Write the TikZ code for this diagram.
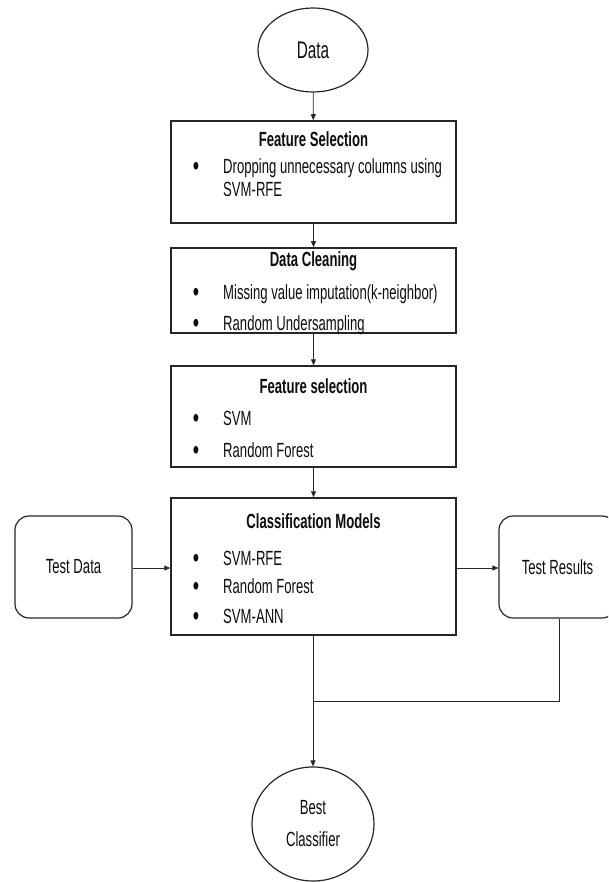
\documentclass[tikz,border=0pt]{standalone}
\usepackage{fontspec}
\setmainfont{Liberation Sans}[FakeStretch=0.64]
\usetikzlibrary{arrows.meta, shapes.geometric}

\tikzset{
    fnt/.style={font=\fontsize{20.5}{23}\selectfont, text=black!95},
    box/.style={draw=black!85, line width=1.5pt, minimum width=285pt, inner sep=0pt},
    roundbox/.style={fnt, draw=black!85, line width=1.2pt, rounded corners=14pt, minimum width=117pt, minimum height=102pt, inner sep=0pt},
    oval/.style={fnt, ellipse, draw=black!85, line width=1.2pt, inner sep=0pt},
    txt/.style={fnt, anchor=base, inner sep=0pt},
    ttl/.style={txt, font=\fontsize{20.5}{23}\selectfont\bfseries},
    itm/.style={txt, anchor=base west},
    dot/.style={txt, font=\fontsize{28}{28}\selectfont},
    line/.style={draw=black!85, line width=0.8pt},
    arr/.style={line, -{Triangle[length=6pt, width=5pt]}},
}

\begin{document}
\begin{tikzpicture}[x=1pt, y=-1pt]
    \clip (0,0) rectangle (608,882);

    \node[oval, minimum width=110pt, minimum height=84pt, font=\fontsize{24}{26}\selectfont] (data) at (313,50) {Data};

    \node[box, minimum height=102pt] (fsel) at (313.5,172) {};
    \node[ttl] (fselT) at (313.5,147) {Feature Selection};
    \node[dot] (fselB1) at (196,176) {\textbullet};
    \node[itm] (fselI1) at (223,174) {Dropping unnecessary columns using};
    \node[itm] (fselI2) at (223,197) {SVM-RFE};

    \node[box, minimum height=85pt] (clean) at (313.5,290.5) {};
    \node[ttl] (cleanT) at (313.5,267) {Data Cleaning};
    \foreach \y/\t [count=\i] in {299/Missing value imputation(k-neighbor), 330/Random Undersampling}{
        \node[dot] (cleanB\i) at (196,\y+2) {\textbullet};
        \node[itm] (cleanI\i) at (223,\y) {\t};
    }

    \node[box, minimum height=101pt] (fsub) at (313.5,416.5) {};
    \node[ttl] (fsubT) at (313.5,393) {Feature selection};
    \foreach \y/\t [count=\i] in {425/SVM, 457/Random Forest}{
        \node[dot] (fsubB\i) at (196,\y+2) {\textbullet};
        \node[itm] (fsubI\i) at (223,\y) {\t};
    }

    \node[box, minimum height=137pt] (models) at (313.5,566.5) {};
    \node[ttl] (modelsT) at (313.5,528) {Classification Models};
    \foreach \y/\t [count=\i] in {565/SVM-RFE, 593/Random Forest, 623/SVM-ANN}{
        \node[dot] (modelsB\i) at (196,\y+2) {\textbullet};
        \node[itm] (modelsI\i) at (223,\y) {\t};
    }

    \node[roundbox] (test) at (73.5,567) {Test Data};
    \node[roundbox] (result) at (557.5,567) {Test Results};

    \node[oval, minimum width=122pt, minimum height=114pt, align=center,
          font=\fontsize{20.5}{32}\selectfont] (best) at (313,824) {Best\\Classifier};

    \coordinate (join) at (313,701);

    \draw[arr] (data) -- (fsel);
    \draw[arr] (fsel) -- (clean);
    \draw[arr] (clean) -- (fsub);
    \draw[arr] (fsub) -- (models);
    \draw[arr] (test.east |- 0,568) -- (models.west |- 0,568);
    \draw[arr] (models.east |- 0,568) -- (result.west |- 0,568);
    \draw[arr] (models.south -| best.north) -- (best.north);
    \draw[line] (result.south -| 559,0) |- (join);

\end{tikzpicture}
\end{document}
